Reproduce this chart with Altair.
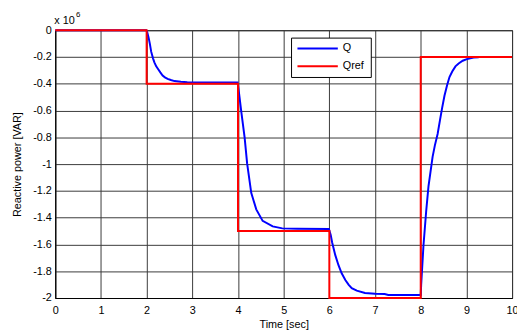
import altair as alt
import pandas as pd

# Q (blue) in units of 1e6 VAR
t_q = [0, 1.99, 2.01, 2.04, 2.07, 2.10, 2.14, 2.17, 2.21, 2.25, 2.30, 2.35, 2.40, 2.46, 2.53, 2.61, 2.75, 2.89, 3.2, 3.99,
       4.00, 4.07, 4.145, 4.20, 4.29, 4.40, 4.54, 4.76, 4.97, 5.3, 5.99,
       6.03, 6.06, 6.13, 6.2, 6.27, 6.35, 6.42, 6.49, 6.6, 6.78, 7.0, 7.21, 7.29, 7.99,
       8.00, 8.01, 8.06, 8.12, 8.17, 8.26, 8.31, 8.37, 8.42, 8.47, 8.52, 8.58, 8.63, 8.69, 8.76, 8.83, 8.92, 9.01, 9.16, 9.27]
q_val = [0, 0, -0.01, -0.05, -0.10, -0.16, -0.21, -0.24, -0.27, -0.29, -0.315, -0.338, -0.352, -0.363, -0.372, -0.38, -0.385, -0.388, -0.39, -0.39,
         -0.407, -0.603, -0.80, -0.995, -1.215, -1.338, -1.424, -1.465, -1.48, -1.482, -1.485,
         -1.53, -1.583, -1.68, -1.755, -1.815, -1.865, -1.90, -1.926, -1.945, -1.963, -1.968, -1.97, -1.978, -1.978,
         -1.978, -1.90, -1.61, -1.35, -1.167, -0.946, -0.86, -0.775, -0.675, -0.578, -0.49, -0.407, -0.35, -0.309, -0.27, -0.248, -0.228, -0.216, -0.204, -0.202]

# Qref (red)
t_ref = [0, 2, 2, 4, 4, 6, 6, 8, 8, 10]
ref_val = [0, 0, -0.4, -0.4, -1.5, -1.5, -2.0, -2.0, -0.2, -0.2]

x_ticks = list(range(0, 11))
y_ticks = [-2, -1.8, -1.6, -1.4, -1.2, -1, -0.8, -0.6, -0.4, -0.2, 0]

legend_names = ["Q", "Qref"]
legend_colors = ["#0000ff", "#ff0000"]

df_q = pd.DataFrame({"t": t_q, "v": q_val, "o": list(range(len(t_q)))})
df_r = pd.DataFrame({"t": t_ref, "v": ref_val, "o": list(range(len(t_ref)))})

FONT = "Liberation Sans"
W, H = 464, 272

xs = alt.Scale(domain=[0, 10], nice=False, zero=False)
ys = alt.Scale(domain=[-2, 0], nice=False, zero=False)

x_axis = alt.Axis(
    values=x_ticks, tickCount=20, labelExpr="'' + datum.value", grid=True, ticks=False,
    gridColor="#3a3a3a", gridWidth=1, domainColor="black", labelColor="black",
    labelFont=FONT, labelFontSize=11, labelPadding=7, labelFlush=False, labelOverlap=False,
    title="Time [sec]", titleFont=FONT, titleFontSize=11, titleFontWeight="normal",
    titleColor="black", titleY=27, titleBaseline="middle")
y_axis = alt.Axis(
    values=y_ticks, tickCount=20, labelExpr="'' + round(datum.value*10)/10", grid=True, ticks=False,
    gridColor="#3a3a3a", gridWidth=1, domainColor="black", labelColor="black",
    labelFont=FONT, labelFontSize=11, labelPadding=4, labelFlush=False, labelOverlap=False,
    title="Reactive power [VAR]", titleFont=FONT, titleFontSize=11, titleFontWeight="normal",
    titleColor="black", titleX=-38, titleBaseline="middle")

q_line = alt.Chart(df_q).mark_line(color="#0000ff", strokeWidth=2, clip=False).encode(
    x=alt.X("t:Q", scale=xs, axis=x_axis), y=alt.Y("v:Q", scale=ys, axis=y_axis), order="o:Q")
r_line = alt.Chart(df_r).mark_line(color="#ff0000", strokeWidth=2, clip=False).encode(
    x=alt.X("t:Q", scale=xs, axis=x_axis), y=alt.Y("v:Q", scale=ys, axis=y_axis), order="o:Q")

one = pd.DataFrame({"a": [0]})
exp_base = alt.Chart(one).mark_text(font=FONT, fontSize=11, align="left", baseline="alphabetic", color="black").encode(
    x=alt.value(-1), y=alt.value(-6), text=alt.value("x 10"))
exp_sup = alt.Chart(one).mark_text(font=FONT, fontSize=8, align="left", baseline="alphabetic", color="black").encode(
    x=alt.value(21), y=alt.value(-13), text=alt.value("6"))

# legend box
leg_box = alt.Chart(one).mark_rect(fill="white", stroke="black", strokeWidth=1).encode(
    x=alt.value(240), x2=alt.value(321), y=alt.value(8), y2=alt.value(48))
leg_layers = []
for i, (name, col) in enumerate(zip(legend_names, legend_colors)):
    yy = 18.5 + i * 18
    d = pd.DataFrame({"name": [name]})
    leg_layers.append(alt.Chart(d).mark_rule(color=col, strokeWidth=2).encode(
        x=alt.value(246), x2=alt.value(287), y=alt.value(yy)))
    leg_layers.append(alt.Chart(d).mark_text(font=FONT, fontSize=11, align="left", baseline="middle", color="black").encode(
        x=alt.value(292), y=alt.value(yy), text="name:N"))

chart = alt.layer(q_line, r_line, exp_base, exp_sup, leg_box, *leg_layers).properties(
    width=W, height=H,
    autosize=alt.AutoSizeParams(type="none"),
    padding={"left": 48, "top": 20, "right": 5, "bottom": 35},
    background="white",
).configure_view(stroke="black", strokeWidth=1)

chart.save("out.html", embed_options={"renderer": "svg", "actions": False})
